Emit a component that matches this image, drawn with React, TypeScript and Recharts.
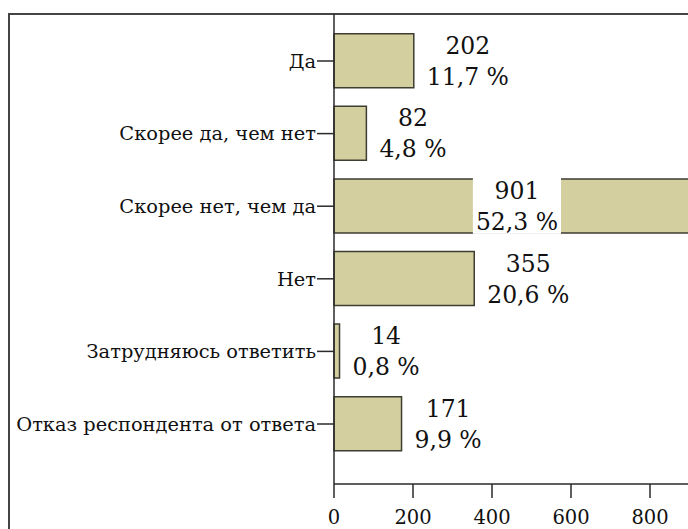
import { BarChart, Bar, XAxis, YAxis, LabelList } from 'recharts'

const SERIF = '"DejaVu Serif", serif'

const BAR_FILL = '#d4cf9f'
const BAR_STROKE = '#3d3d32'
const AXIS_COLOR = '#2a2a2a'

const categories = [
  'Да',
  'Скорее да, чем нет',
  'Скорее нет, чем да',
  'Нет',
  'Затрудняюсь ответить',
  'Отказ респондента от ответа',
]
const counts = [202, 82, 901, 355, 14, 171]
const percents = [11.7, 4.8, 52.3, 20.6, 0.8, 9.9]
const xTicks = [0, 200, 400, 600, 800]

const data = categories.map((name, i) => ({ name, count: counts[i], pct: percents[i] }))

const fmtPct = (v: number) => `${v.toFixed(1).replace('.', ',')} %`

const LABEL_FONT = 23.5
let measureCtx: CanvasRenderingContext2D | null = null
function textWidth(s: string): number {
  if (!measureCtx) measureCtx = document.createElement('canvas').getContext('2d')
  if (!measureCtx) return s.length * LABEL_FONT * 0.55
  measureCtx.font = `${LABEL_FONT}px ${SERIF}`
  return measureCtx.measureText(s).width
}

function renderValueLabel(props: any) {
  const { x, y, width, height, index } = props
  const count = String(counts[index])
  const pct = fmtPct(percents[index])
  const w = Math.max(textWidth(count), textWidth(pct))
  // long bars get the label in the middle of the bar, the rest just past the end
  const cx = width > 300 ? x + width / 2 + 5 : x + width + 13 + w / 2
  const cy = y + height / 2
  return (
    <g>
      <rect x={cx - w / 2 - 3} y={y - 1} width={w + 6} height={height + 2} fill="#fff" />
      <text x={cx} y={cy - 7} textAnchor="middle" fontSize={LABEL_FONT} fontFamily={SERIF} fill="#111">
        {count}
      </text>
      <text x={cx} y={cy + 24} textAnchor="middle" fontSize={LABEL_FONT} fontFamily={SERIF} fill="#111">
        {pct}
      </text>
    </g>
  )
}

export default function App() {
  return (
    <div
      style={{
        position: 'absolute',
        left: 0,
        top: 0,
        width: 688,
        height: 529,
        overflow: 'hidden',
        background: '#fff',
      }}
    >
      <div
        style={{
          position: 'absolute',
          left: 8,
          top: 13,
          width: 800,
          height: 600,
          borderTop: '2px solid #444',
          borderLeft: '2px solid #444',
        }}
      />
      <div style={{ position: 'absolute', left: 0, top: 0 }}>
        <BarChart
          width={745}
          height={529}
          data={data}
          layout="vertical"
          margin={{ top: 14, right: 16, left: 0, bottom: 15 }}
          barSize={54}
        >
          <XAxis
            type="number"
            domain={[0, 1000]}
            ticks={xTicks}
            height={30}
            tickSize={14}
            tickMargin={12}
            axisLine={{ stroke: AXIS_COLOR, strokeWidth: 1.5 }}
            tickLine={{ stroke: AXIS_COLOR, strokeWidth: 1.5 }}
            tick={{ fontSize: 19.5, fill: '#111', fontFamily: SERIF }}
            interval={0}
          />
          <YAxis
            type="category"
            dataKey="name"
            width={334}
            padding={{ top: 10.7, bottom: 23.7 }}
            tickSize={17}
            tickMargin={1}
            axisLine={{ stroke: AXIS_COLOR, strokeWidth: 1.5 }}
            tickLine={{ stroke: AXIS_COLOR, strokeWidth: 1.5 }}
            tick={{ fontSize: 19.4, fill: '#111', fontFamily: SERIF }}
            interval={0}
          />
          <Bar dataKey="count" fill={BAR_FILL} stroke={BAR_STROKE} strokeWidth={1.5} isAnimationActive={false}>
            <LabelList dataKey="count" content={renderValueLabel} />
          </Bar>
        </BarChart>
      </div>
    </div>
  )
}
